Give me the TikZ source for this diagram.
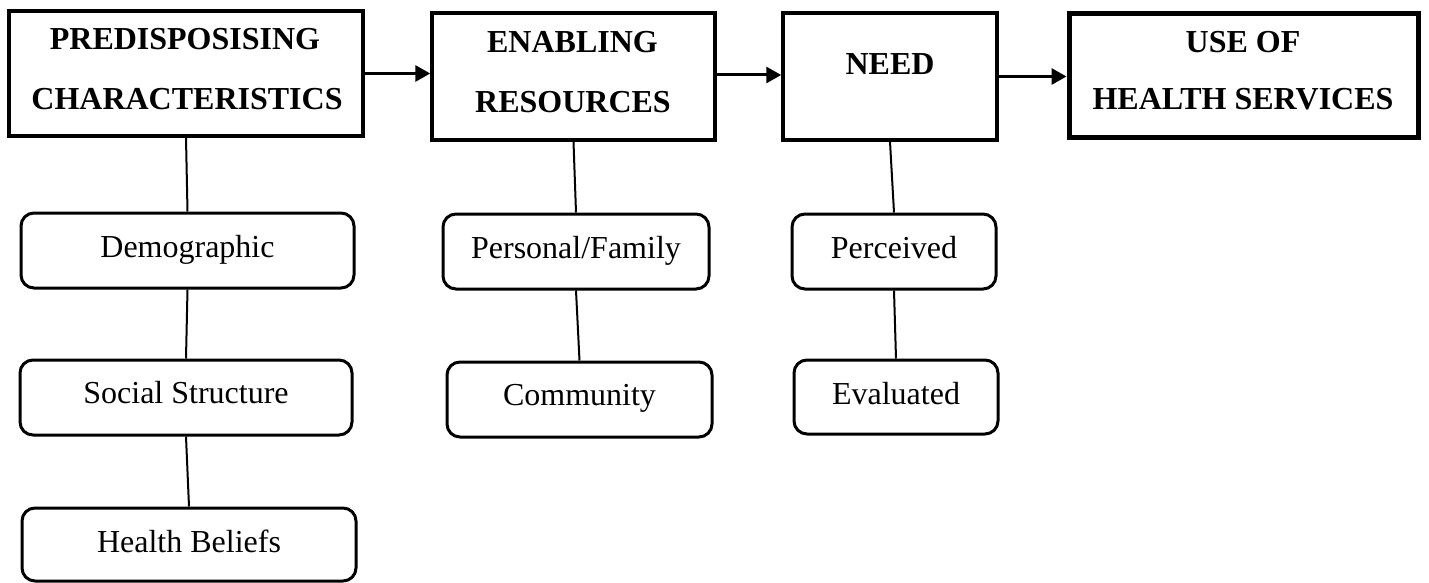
\documentclass[tikz,border=0pt]{standalone}
\usepackage{fontspec}
\setmainfont{Liberation Serif}
\usetikzlibrary{arrows.meta}
\begin{document}
\begin{tikzpicture}[x=1pt,y=-1pt,
  mainbox/.style={draw, line width=3.5pt, rectangle, inner sep=0pt},
  usebox/.style={draw, line width=5pt, rectangle, inner sep=0pt},
  subbox/.style={draw, line width=3pt, rectangle, rounded corners=13pt, inner sep=0pt},
  hd/.style={font=\fontsize{32}{38}\selectfont\bfseries, inner sep=0pt, anchor=base},
  lbl/.style={font=\fontsize{32}{38}\selectfont, inner sep=0pt, anchor=base},
  conn/.style={line width=2pt},
  arr/.style={line width=3pt, -{Triangle[length=15pt,width=16pt]}}
]
\useasboundingbox (0,0) rectangle (1429,583);
% main boxes
\node[mainbox, minimum width=354pt, minimum height=125pt] (b1) at (186,73.5) {};
\node[mainbox, minimum width=283pt, minimum height=127pt] (b2) at (573.5,76.5) {};
\node[mainbox, minimum width=214pt, minimum height=127pt] (b3) at (890,76.5) {};
\node[usebox, minimum width=349pt, minimum height=124pt] (b4) at (1243.5,76) {};
% headings
\node[hd] (t1a) at (185,50) {PREDISPOSISING};
\node[hd] (t1b) at (187,110) {CHARACTERISTICS};
\node[hd] (t2a) at (572.5,53) {ENABLING};
\node[hd] (t2b) at (573,113) {RESOURCES};
\node[hd] (t3a) at (890,75) {NEED};
\node[hd] (t4a) at (1243,53) {USE OF};
\node[hd] (t4b) at (1243,110) {HEALTH SERVICES};
% sub boxes
\node[subbox, minimum width=333pt, minimum height=75pt] (demo) at (187.5,250.5) {};
\node[subbox, minimum width=332pt, minimum height=75pt] (soc) at (186,397.5) {};
\node[subbox, minimum width=334pt, minimum height=73pt] (hb) at (189,544.5) {};
\node[subbox, minimum width=266pt, minimum height=75pt] (pf) at (576,251.5) {};
\node[subbox, minimum width=265pt, minimum height=75pt] (com) at (579.5,399.5) {};
\node[subbox, minimum width=204pt, minimum height=75pt] (per) at (894,251.5) {};
\node[subbox, minimum width=204pt, minimum height=74pt] (ev) at (896,397) {};
% sub labels
\node[lbl] (l1) at (187.5,257) {Demographic};
\node[lbl] (l2) at (186,403) {Social Structure};
\node[lbl] (l3) at (189,552) {Health Beliefs};
\node[lbl] (l4) at (576,258) {Personal/Family};
\node[lbl] (l5) at (579.5,405) {Community};
\node[lbl] (l6) at (894,258) {Perceived};
\node[lbl] (l7) at (896,404) {Evaluated};
% connectors
\draw[conn] (b1.south) -- (demo.north);
\draw[conn] (demo.south) -- (soc.north);
\draw[conn] (soc.south) -- (hb.north);
\draw[conn] (b2.south) -- (pf.north);
\draw[conn] (pf.south) -- (com.north);
\draw[conn] (b3.south) -- (per.north);
\draw[conn] (per.south) -- (ev.north);
% arrows
\draw[arr] (b1.east) -- (b1.east -| b2.west);
\draw[arr] ([yshift=1.5pt]b2.east) -- ([yshift=1.5pt]b2.east -| b3.west);
\draw[arr] (b3.east) -- (b3.east -| b4.west);
\end{tikzpicture}
\end{document}
